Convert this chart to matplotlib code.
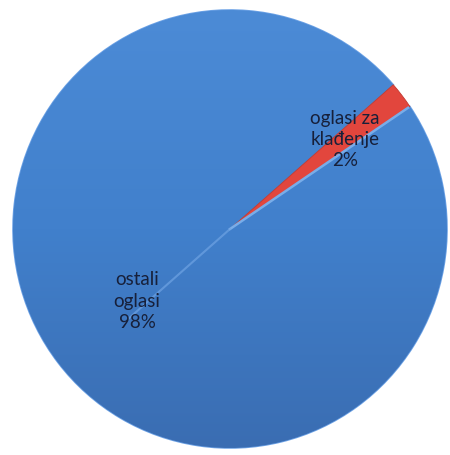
import numpy as np
import matplotlib.pyplot as plt
from matplotlib.colors import LinearSegmentedColormap

# podaci
labels = ['oglasi za\nklađenje', 'ostali\noglasi']
values = [2, 98]
colors = ['#e2463d', '#4682cf']
label_r = [0.67, 0.54]

fig = plt.figure(figsize=(4.5, 4.55), dpi=100)
ax = fig.add_axes([0.0289, 0.0154, 0.9644, 0.9626])

wedges, _ = ax.pie(values, colors=colors, startangle=34, counterclock=True,
                   radius=1, wedgeprops=dict(edgecolor='#6ea3e6', linewidth=1.2))
wedges[0].set_edgecolor('#c23a31')
wedges[0].set_linewidth(0.6)

# gradijent za plavi dio (svjetlije gore, tamnije dolje)
grad = np.linspace(0, 1, 256).reshape(-1, 1)
cmap = LinearSegmentedColormap.from_list('b', ['#3a6db2', '#4180cc', '#4c8bd6'])
im = ax.imshow(grad, extent=[-1, 1, -1, 1], origin='lower', cmap=cmap, aspect='auto', zorder=1)
im.set_clip_path(wedges[1])
wedges[1].set_zorder(0)
wedges[0].set_zorder(2)

# svijetla linija na rubu
t1 = np.deg2rad(wedges[1].theta2)
t2 = np.deg2rad(wedges[1].theta1) + np.pi
ax.plot([0, 0.99 * np.cos(t1)], [0, 0.99 * np.sin(t1)], color='#78ade9', lw=1.8, zorder=3)
ax.plot([0, 0.62 * np.cos(t2)], [0, 0.62 * np.sin(t2)], color='#6fa3e3', lw=1.5, alpha=0.7, zorder=3)

for w, lab, v, r in zip(wedges, labels, values, label_r):
    a = np.deg2rad((w.theta1 + w.theta2) / 2)
    ax.text(r * np.cos(a), r * np.sin(a), f'{lab}\n{v}%', ha='center', va='center',
            fontsize=13.5, color='#17203a', family='Lato', linespacing=1.3, zorder=4)

ax.set_xlim(-1, 1)
ax.set_ylim(-1, 1)
ax.set_aspect('auto')
ax.axis('off')

fig.savefig('out.png', dpi=100)
